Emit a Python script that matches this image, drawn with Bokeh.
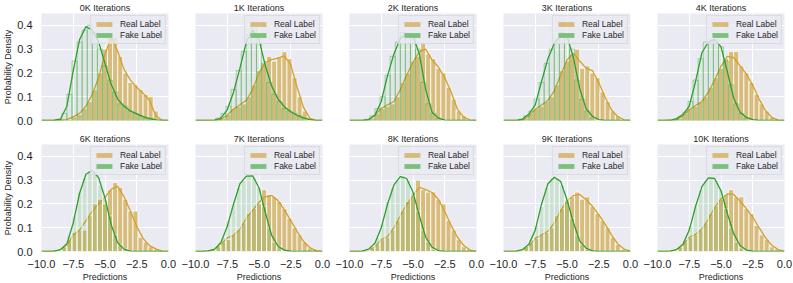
from bokeh.plotting import figure
from bokeh.layouts import gridplot
from bokeh.models import (FixedTicker, Range1d, Legend, LegendItem,
                          CustomJSTickFormatter)
from bokeh.embed import file_html
from bokeh.resources import INLINE

TITLES = ["0K Iterations", "1K Iterations", "2K Iterations", "3K Iterations", "4K Iterations",
          "6K Iterations", "7K Iterations", "8K Iterations", "9K Iterations", "10K Iterations"]

X_TICKS = [-10, -7.5, -5, -2.5, 0]
Y_TICKS = [0, 0.1, 0.2, 0.3, 0.4]

KDE_X = [-10.0, -9.5, -9.0, -8.5, -8.0, -7.5, -7.0, -6.5, -6.0, -5.5, -5.0,
         -4.5, -4.0, -3.5, -3.0, -2.5, -2.0, -1.5, -1.0, -0.5, 0.0]

REAL_KDE = [
    [0, 0, 0, 0.001, 0.004, 0.015, 0.03, 0.06, 0.11, 0.18, 0.28, 0.35, 0.29, 0.215, 0.17, 0.14, 0.115, 0.085, 0.02, 0.001, 0],
    [0, 0, 0, 0, 0.005, 0.022, 0.048, 0.066, 0.085, 0.13, 0.2, 0.245, 0.256, 0.262, 0.272, 0.235, 0.14, 0.055, 0.01, 0, 0],
    [0, 0, 0, 0.003, 0.022, 0.05, 0.066, 0.08, 0.13, 0.19, 0.245, 0.29, 0.3, 0.255, 0.225, 0.18, 0.12, 0.047, 0.014, 0.002, 0],
    [0, 0, 0, 0.002, 0.018, 0.047, 0.065, 0.085, 0.125, 0.19, 0.255, 0.283, 0.25, 0.22, 0.21, 0.16, 0.098, 0.045, 0.016, 0.003, 0],
    [0, 0, 0, 0.003, 0.02, 0.045, 0.063, 0.08, 0.118, 0.17, 0.228, 0.27, 0.265, 0.23, 0.195, 0.148, 0.09, 0.042, 0.013, 0.002, 0],
    [0, 0, 0.001, 0.007, 0.025, 0.07, 0.09, 0.13, 0.17, 0.2, 0.228, 0.262, 0.274, 0.23, 0.17, 0.105, 0.055, 0.025, 0.011, 0.002, 0],
    [0, 0, 0.002, 0.007, 0.03, 0.057, 0.068, 0.093, 0.14, 0.173, 0.207, 0.23, 0.236, 0.214, 0.175, 0.13, 0.085, 0.043, 0.016, 0.004, 0],
    [0, 0, 0.001, 0.006, 0.02, 0.05, 0.063, 0.1, 0.15, 0.197, 0.235, 0.27, 0.26, 0.248, 0.22, 0.168, 0.11, 0.06, 0.025, 0.006, 0],
    [0, 0, 0.001, 0.006, 0.02, 0.055, 0.07, 0.085, 0.12, 0.172, 0.212, 0.235, 0.24, 0.218, 0.19, 0.155, 0.115, 0.07, 0.032, 0.01, 0.002],
    [0, 0, 0.002, 0.008, 0.025, 0.06, 0.072, 0.095, 0.135, 0.185, 0.222, 0.242, 0.24, 0.212, 0.18, 0.145, 0.1, 0.058, 0.026, 0.008, 0.001],
]

FAKE_KDE = [
    [0, 0, 0.001, 0.006, 0.06, 0.21, 0.34, 0.395, 0.38, 0.33, 0.24, 0.15, 0.09, 0.06, 0.04, 0.028, 0.016, 0.008, 0.003, 0, 0],
    [0, 0, 0, 0.002, 0.01, 0.045, 0.12, 0.22, 0.33, 0.38, 0.34, 0.23, 0.145, 0.09, 0.058, 0.037, 0.022, 0.011, 0.004, 0, 0],
    [0, 0, 0, 0.004, 0.022, 0.08, 0.19, 0.28, 0.345, 0.366, 0.355, 0.28, 0.13, 0.035, 0.01, 0.002, 0, 0, 0, 0, 0],
    [0, 0, 0, 0.006, 0.027, 0.066, 0.165, 0.26, 0.325, 0.357, 0.355, 0.265, 0.135, 0.05, 0.018, 0.004, 0, 0, 0, 0, 0],
    [0, 0, 0.001, 0.008, 0.025, 0.06, 0.165, 0.285, 0.33, 0.34, 0.31, 0.205, 0.094, 0.035, 0.013, 0.004, 0, 0, 0, 0, 0],
    [0, 0, 0.002, 0.008, 0.033, 0.12, 0.245, 0.325, 0.341, 0.31, 0.225, 0.11, 0.037, 0.01, 0.002, 0, 0, 0, 0, 0, 0],
    [0, 0, 0.003, 0.01, 0.038, 0.105, 0.2, 0.285, 0.317, 0.318, 0.268, 0.164, 0.068, 0.022, 0.006, 0.001, 0, 0, 0, 0, 0],
    [0, 0, 0.002, 0.01, 0.035, 0.1, 0.2, 0.28, 0.315, 0.307, 0.25, 0.15, 0.06, 0.018, 0.004, 0, 0, 0, 0, 0, 0],
    [0, 0, 0.002, 0.008, 0.03, 0.09, 0.2, 0.285, 0.312, 0.295, 0.218, 0.122, 0.045, 0.014, 0.003, 0, 0, 0, 0, 0, 0],
    [0, 0, 0.002, 0.008, 0.03, 0.09, 0.19, 0.273, 0.31, 0.307, 0.255, 0.16, 0.075, 0.025, 0.006, 0.001, 0, 0, 0, 0, 0],
]

BIN_CENTERS = [-8.6, -8.2, -7.8, -7.4, -7.0, -6.6, -6.2, -5.8, -5.4, -5.0, -4.6,
               -4.2, -3.8, -3.4, -3.0, -2.6, -2.2, -1.8, -1.4, -1.0, -0.6, -0.2]
BIN_WIDTH = 0.4

REAL_HIST = [
    [0, 0, 0.005, 0.015, 0.025, 0.05, 0.08, 0.13, 0.2, 0.3, 0.36, 0.35, 0.27, 0.2, 0.16, 0.15, 0.13, 0.11, 0.1, 0.04, 0, 0],
    [0, 0, 0.01, 0.025, 0.05, 0.06, 0.07, 0.1, 0.15, 0.21, 0.24, 0.27, 0.25, 0.27, 0.29, 0.26, 0.18, 0.1, 0.04, 0.01, 0, 0],
    [0, 0.01, 0.03, 0.05, 0.06, 0.07, 0.1, 0.16, 0.2, 0.25, 0.27, 0.33, 0.28, 0.26, 0.22, 0.2, 0.14, 0.09, 0.04, 0.02, 0.005, 0],
    [0, 0.01, 0.03, 0.05, 0.06, 0.08, 0.1, 0.15, 0.21, 0.25, 0.28, 0.3, 0.22, 0.23, 0.2, 0.18, 0.12, 0.08, 0.04, 0.02, 0.005, 0],
    [0, 0.01, 0.03, 0.05, 0.06, 0.08, 0.1, 0.14, 0.18, 0.22, 0.26, 0.29, 0.29, 0.23, 0.2, 0.16, 0.11, 0.07, 0.04, 0.015, 0.005, 0],
    [0.005, 0.02, 0.05, 0.08, 0.09, 0.09, 0.15, 0.2, 0.22, 0.2, 0.26, 0.29, 0.27, 0.22, 0.17, 0.17, 0.06, 0.04, 0.02, 0.01, 0.005, 0],
    [0.005, 0.02, 0.04, 0.05, 0.07, 0.09, 0.12, 0.16, 0.18, 0.2, 0.26, 0.24, 0.23, 0.21, 0.18, 0.14, 0.1, 0.07, 0.04, 0.015, 0.01, 0],
    [0.005, 0.015, 0.03, 0.05, 0.06, 0.09, 0.13, 0.17, 0.21, 0.23, 0.3, 0.26, 0.25, 0.25, 0.22, 0.2, 0.13, 0.09, 0.05, 0.02, 0.01, 0],
    [0.005, 0.015, 0.035, 0.055, 0.07, 0.08, 0.1, 0.15, 0.18, 0.21, 0.23, 0.25, 0.22, 0.23, 0.19, 0.16, 0.13, 0.1, 0.06, 0.03, 0.01, 0.005],
    [0.005, 0.02, 0.04, 0.06, 0.07, 0.09, 0.12, 0.16, 0.19, 0.22, 0.24, 0.26, 0.23, 0.23, 0.18, 0.16, 0.11, 0.07, 0.05, 0.02, 0.01, 0],
]

FAKE_HIST = [
    [0.005, 0.03, 0.11, 0.25, 0.33, 0.38, 0.4, 0.37, 0.3, 0.23, 0.17, 0.12, 0.07, 0.06, 0.04, 0.03, 0.02, 0.01, 0.01, 0, 0, 0],
    [0, 0.01, 0.03, 0.06, 0.13, 0.21, 0.29, 0.36, 0.41, 0.33, 0.24, 0.16, 0.11, 0.08, 0.05, 0.04, 0.03, 0.02, 0.01, 0, 0, 0],
    [0.005, 0.02, 0.05, 0.1, 0.19, 0.27, 0.33, 0.37, 0.36, 0.36, 0.3, 0.16, 0.07, 0.03, 0.01, 0, 0, 0, 0, 0, 0, 0],
    [0.005, 0.02, 0.04, 0.09, 0.16, 0.24, 0.3, 0.34, 0.37, 0.35, 0.3, 0.17, 0.09, 0.04, 0.01, 0, 0, 0, 0, 0, 0, 0],
    [0.005, 0.015, 0.035, 0.08, 0.17, 0.26, 0.33, 0.34, 0.34, 0.31, 0.25, 0.15, 0.07, 0.03, 0.01, 0, 0, 0, 0, 0, 0, 0],
    [0.005, 0.02, 0.07, 0.15, 0.25, 0.31, 0.34, 0.34, 0.28, 0.22, 0.15, 0.07, 0.03, 0.01, 0, 0, 0, 0, 0, 0, 0, 0],
    [0.01, 0.025, 0.06, 0.13, 0.2, 0.27, 0.3, 0.32, 0.31, 0.27, 0.19, 0.1, 0.04, 0.02, 0.005, 0, 0, 0, 0, 0, 0, 0],
    [0.005, 0.02, 0.06, 0.12, 0.21, 0.27, 0.3, 0.32, 0.3, 0.25, 0.17, 0.09, 0.04, 0.01, 0, 0, 0, 0, 0, 0, 0, 0],
    [0.005, 0.02, 0.05, 0.11, 0.19, 0.27, 0.31, 0.31, 0.28, 0.22, 0.14, 0.07, 0.03, 0.01, 0, 0, 0, 0, 0, 0, 0, 0],
    [0.005, 0.02, 0.05, 0.11, 0.19, 0.26, 0.3, 0.31, 0.3, 0.26, 0.18, 0.1, 0.04, 0.015, 0.005, 0, 0, 0, 0, 0, 0, 0],
]

FONT = "Liberation Sans"
TEXT_COLOR = "#262626"
BG = "#EAEAF2"
REAL_BAR = "#D8BC7E"
REAL_LINE = "#D4A02A"
FAKE = "#2CA02C"
FAKE_LEG = "#7DC07D"
REAL_LEG = "#D8BA7A"

x_fmt = CustomJSTickFormatter(code="return (tick < 0 ? '\u2212' : '') + Math.abs(tick).toFixed(1);")
y_fmt = CustomJSTickFormatter(code="return tick.toFixed(1);")


def nonzero(xs, ys):
    pairs = [(x, y) for x, y in zip(xs, ys) if y > 0]
    return [p[0] for p in pairs], [p[1] for p in pairs]


def make_panel(i):
    row, col = divmod(i, 5)
    first_col = col == 0
    bottom = row == 1
    p = figure(frame_width=127, frame_height=107,
               x_range=Range1d(-10, 0), y_range=Range1d(0, 0.45),
               output_backend="svg", toolbar_location=None,
               min_border_left=31 if first_col else 18, min_border_right=9,
               min_border_top=11 if row == 0 else 18,
               min_border_bottom=26 if bottom else 6,
               background_fill_color=BG, border_fill_color="white",
               outline_line_color=None)
    p.title.text = TITLES[i]
    p.title.align = "center"
    p.title.text_font = FONT
    p.title.text_font_size = "9px"
    p.title.text_font_style = "normal"
    p.title.text_color = TEXT_COLOR
    p.title.standoff = 1

    p.xgrid.ticker = FixedTicker(ticks=X_TICKS)
    p.ygrid.ticker = FixedTicker(ticks=Y_TICKS)
    p.grid.grid_line_color = "white"
    p.grid.grid_line_width = 1

    for ax in (p.xaxis[0], p.yaxis[0]):
        ax.axis_line_color = None
        ax.major_tick_line_color = None
        ax.minor_tick_line_color = None
        ax.major_label_text_font = FONT
        ax.major_label_text_font_size = "11px"
        ax.major_label_text_color = TEXT_COLOR
        ax.axis_label_text_font = FONT
        ax.axis_label_text_font_size = "9px"
        ax.axis_label_text_font_style = "normal"
        ax.axis_label_text_color = TEXT_COLOR
    p.xaxis.ticker = FixedTicker(ticks=X_TICKS)
    p.xaxis.formatter = x_fmt
    p.xaxis.major_label_standoff = 2
    p.xaxis.axis_label_standoff = 1
    p.yaxis.ticker = FixedTicker(ticks=Y_TICKS)
    p.yaxis.formatter = y_fmt
    p.yaxis.major_label_standoff = 3
    p.yaxis.axis_label_standoff = 1
    if bottom:
        p.xaxis.axis_label = "Predictions"
    else:
        p.xaxis.visible = False
    if first_col:
        p.yaxis.axis_label = "Probability Density"
    else:
        p.yaxis.visible = False

    rx, rh = nonzero(BIN_CENTERS, REAL_HIST[i])
    p.vbar(x=rx, top=rh, width=BIN_WIDTH, fill_color=REAL_BAR,
           line_color="white", line_width=0.8)
    p.line(KDE_X, REAL_KDE[i], line_color=REAL_LINE, line_width=1.3)

    fx, fh = nonzero(BIN_CENTERS, FAKE_HIST[i])
    if bottom:
        p.vbar(x=fx, top=fh, width=BIN_WIDTH, fill_color=FAKE, fill_alpha=0.15,
               line_color="white", line_alpha=0.8, line_width=0.8)
    else:
        p.vbar(x=fx, top=fh, width=BIN_WIDTH, fill_color=FAKE, fill_alpha=0.05,
               line_color=FAKE, line_alpha=0.45, line_width=0.8)
    p.line(KDE_X, FAKE_KDE[i], line_color=FAKE, line_width=1.3)

    # legend swatches (not drawn in the plot, only in the legend)
    r_leg = p.vbar(x=rx, top=rh, width=BIN_WIDTH, fill_color=REAL_LEG,
                   line_color=None, visible=False)
    f_leg = p.vbar(x=fx, top=fh, width=BIN_WIDTH, fill_color=FAKE_LEG,
                   line_color=None, visible=False)
    legend = Legend(items=[LegendItem(label="Real Label", renderers=[r_leg]),
                           LegendItem(label="Fake Label", renderers=[f_leg])],
                    location="top_right", margin=2, padding=3, spacing=1,
                    glyph_width=20, glyph_height=6, label_height=10,
                    label_standoff=6, label_text_font=FONT,
                    label_text_font_size="8.5px", label_text_color=TEXT_COLOR,
                    background_fill_color=BG, background_fill_alpha=0.8,
                    border_line_color="#CCCCCC", border_line_width=0.8)
    p.add_layout(legend)
    return p


panels = [make_panel(i) for i in range(10)]
grid = gridplot([panels[:5], panels[5:]], toolbar_location=None)

open("out.html", "w").write(file_html(grid, INLINE))
